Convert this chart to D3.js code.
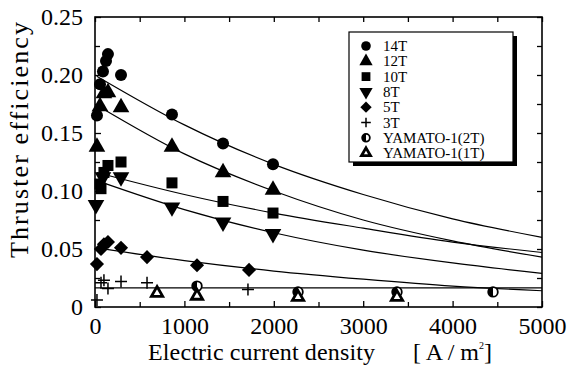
<!DOCTYPE html>
<html><head><meta charset="utf-8">
<script src="https://cdn.jsdelivr.net/npm/d3@7"></script>
<style>body{margin:0;background:#fff}svg{display:block}</style>
</head><body>
<script>
// ---- data ----
const xTicks = [0,1000,2000,3000,4000,5000];
const yTicks = [0,0.05,0.10,0.15,0.20,0.25];
const seriesNames = ["14T","12T","10T","8T","5T","3T","YAMATO-1(2T)","YAMATO-1(1T)"];

const x14 = [22,56,89,123,145,291,861,1432,1991];
const y14 = [0.165,0.192,0.203,0.212,0.218,0.200,0.166,0.141,0.123];
const x12 = [22,56,100,145,291,861,1432,1991];
const y12 = [0.138,0.173,0.184,0.185,0.172,0.138,0.116,0.101];
const x10 = [56,67,100,145,291,861,1432,1991];
const y10 = [0.106,0.102,0.116,0.122,0.125,0.107,0.091,0.081];
const x8 = [11,89,291,861,1432,1991];
const y8 = [0.088,0.112,0.112,0.086,0.073,0.063];
const x5 = [22,67,100,145,291,582,1141,1723];
const y5 = [0.037,0.050,0.054,0.056,0.051,0.043,0.036,0.032];
const x3 = [22,67,100,145,291,582,1711];
const y3 = [0.006,0.021,0.023,0.016,0.022,0.021,0.015];
const xY2 = [1141,2271,3378,4452];
const yY2 = [0.018,0.013,0.013,0.013];
const xY1 = [694,1141,2271,3378];
const yY1 = [0.012,0.0095,0.0085,0.0085];

// fitted curves
const fitX = [20,1000,2000,3000,4000,5000];
const fit14 = [0.199,0.157,0.123,0.097,0.076,0.060];
const fit12 = [0.174,0.132,0.100,0.075,0.057,0.043];
const fit10 = [0.116,0.097,0.081,0.068,0.056,0.047];
const fit8  = [0.109,0.084,0.064,0.049,0.038,0.029];
const fit5  = [0.051,0.040,0.031,0.024,0.018,0.014];
const fit3X = [0,5000];
const fit3  = [0.0165,0.0165];

// ---- layout ----
const FONT='"Liberation Serif"';
const W=569,H=367;
const L=95,R=542,T=17,B=307;
const svg=d3.select("body").append("svg").attr("width",W).attr("height",H)
  .attr("font-family","Liberation Serif").style("font-family",FONT);
const x=d3.scaleLinear().domain([0,5000]).range([L,R]);
const y=d3.scaleLinear().domain([0,0.25]).range([B,T]);

function txt(sel,size){ return sel.attr("font-family","Liberation Serif").attr("font-size",size).style("font-family",FONT).style("font-size",size+"px").attr("fill","#000"); }

// axes
const xMinor=d3.range(500,5000,1000);
const yMinor=d3.range(0.025,0.25,0.05);
const axes=[];
axes.push(svg.append("g").attr("transform",`translate(0,${B})`)
  .call(d3.axisBottom(x).tickValues(xTicks).tickSizeInner(-6).tickSizeOuter(0).tickPadding(10).tickFormat(d3.format("d"))));
axes.push(svg.append("g").attr("transform",`translate(0,${B})`).call(d3.axisBottom(x).tickValues(xMinor).tickSizeInner(-5).tickSizeOuter(0).tickFormat("")));
axes.push(svg.append("g").attr("transform",`translate(0,${T})`).call(d3.axisTop(x).tickValues(xTicks.concat(xMinor)).tickSizeInner(-5).tickSizeOuter(0).tickFormat("")));
axes.push(svg.append("g").attr("transform",`translate(${L},0)`)
  .call(d3.axisLeft(y).tickValues(yTicks).tickSizeInner(-6).tickSizeOuter(0).tickPadding(12).tickFormat(d=>d===0?"0":d3.format(".2f")(d))));
axes.push(svg.append("g").attr("transform",`translate(${L},0)`).call(d3.axisLeft(y).tickValues(yMinor).tickSizeInner(-5).tickSizeOuter(0).tickFormat("")));
axes.push(svg.append("g").attr("transform",`translate(${R},0)`).call(d3.axisRight(y).tickValues(yTicks.concat(yMinor)).tickSizeInner(-5).tickSizeOuter(0).tickFormat("")));
axes.forEach(a=>a.attr("font-family","Liberation Serif").attr("font-size",24));
svg.selectAll(".domain").remove();
svg.selectAll(".tick line").attr("stroke","#000").attr("stroke-width",1.3);
txt(svg.selectAll(".tick text"),24);
svg.append("rect").attr("x",L).attr("y",T).attr("width",R-L).attr("height",B-T)
  .attr("fill","none").attr("stroke","#000").attr("stroke-width",1.6);

// titles
txt(svg.append("text").attr("transform",`translate(28,140) rotate(-90)`).attr("text-anchor","middle")
  .attr("textLength",236).attr("lengthAdjust","spacing"),26).text("Thruster efficiency");
txt(svg.append("text").attr("x",148).attr("y",360).attr("textLength",227).attr("lengthAdjust","spacing"),24).text("Electric current density");
const u=txt(svg.append("text").attr("x",413).attr("y",360),24);
u.append("tspan").text("[ A / m");
u.append("tspan").attr("dy",-11).attr("font-size",10).style("font-size","10px").text("2");
u.append("tspan").attr("dy",11).text("]");

// curves
const line=d3.line().x(d=>x(d[0])).y(d=>y(d[1])).curve(d3.curveMonotoneX);
const curves=[[fitX,fit14],[fitX,fit12],[fitX,fit10],[fitX,fit8],[fitX,fit5],[fit3X,fit3]];
curves.forEach(([xs,ys])=>{
  svg.append("path").datum(xs.map((v,i)=>[v,ys[i]])).attr("d",line)
    .attr("fill","none").attr("stroke","#000").attr("stroke-width",1.2);
});

// markers
function marker(g,type,s){
  s=s||1;
  if(type==="circle") g.append("circle").attr("r",6*s).attr("fill","#000");
  else if(type==="triUp") g.append("path").attr("d",d3.symbol(d3.symbolTriangle,120*s*s)()).attr("fill","#000");
  else if(type==="square") g.append("rect").attr("x",-5.5*s).attr("y",-5.5*s).attr("width",11*s).attr("height",11*s).attr("fill","#000");
  else if(type==="triDown") g.append("path").attr("d",d3.symbol(d3.symbolTriangle,120*s*s)()).attr("transform","rotate(180)").attr("fill","#000");
  else if(type==="diamond") g.append("rect").attr("x",-5*s).attr("y",-5*s).attr("width",10*s).attr("height",10*s).attr("transform","rotate(45)").attr("fill","#000");
  else if(type==="plus"){ g.append("path").attr("d",`M${-6*s},0H${6*s}M0,${-6*s}V${6*s}`).attr("stroke","#000").attr("stroke-width",1.5);}
  else if(type==="half"){ const r=4.8*s;
    g.append("circle").attr("r",r).attr("fill","#fff").attr("stroke","#000").attr("stroke-width",1.8);
    g.append("path").attr("d",`M0,${-r}A${r},${r} 0 0 0 0,${r}Z`).attr("fill","#000");}
  else if(type==="triOpen") g.append("path").attr("d",d3.symbol(d3.symbolTriangle,55*s*s)()).attr("fill","#fff").attr("stroke","#000").attr("stroke-width",2.8);
}
const sets=[[x14,y14,"circle"],[x12,y12,"triUp"],[x10,y10,"square"],[x8,y8,"triDown"],[x5,y5,"diamond"],[x3,y3,"plus"],[xY2,yY2,"half"],[xY1,yY1,"triOpen"]];
sets.forEach(([xs,ys,t])=>{
  xs.forEach((v,i)=>{ const g=svg.append("g").attr("transform",`translate(${x(v)},${y(ys[i])})`); marker(g,t); });
});

// legend
const lg=svg.append("g");
lg.append("rect").attr("x",353).attr("y",36).attr("width",164).attr("height",130).attr("fill","#000");
lg.append("rect").attr("x",349).attr("y",32).attr("width",164).attr("height",130).attr("fill","#fff").attr("stroke","#000").attr("stroke-width",1.2);
seriesNames.forEach((n,i)=>{
  const yy=46+i*15.3;
  const g=lg.append("g").attr("transform",`translate(366,${yy})`); marker(g,sets[i][2],0.8);
  txt(lg.append("text").attr("x",383).attr("y",yy+5),15).text(n);
});
</script>
</body></html>
